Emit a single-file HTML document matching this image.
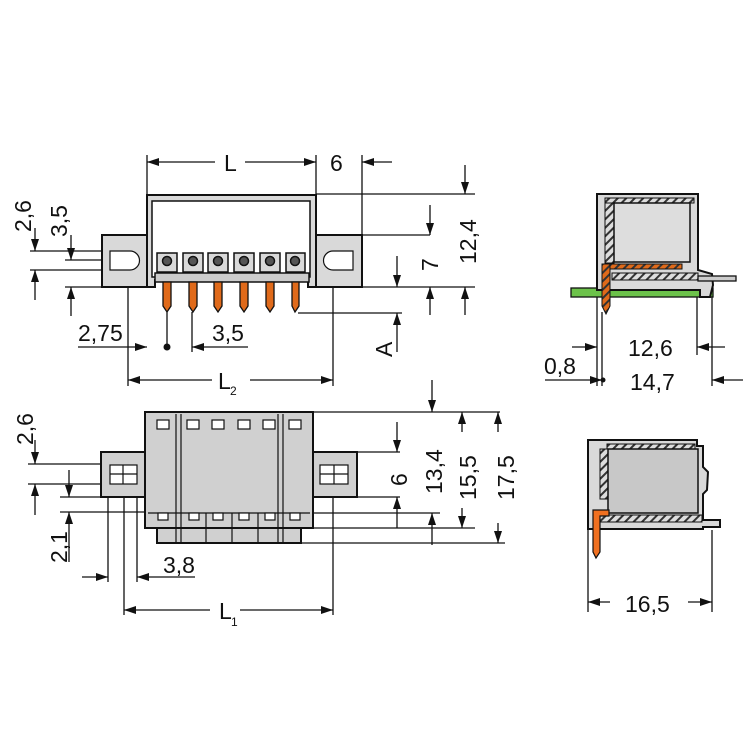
<!DOCTYPE html>
<html><head><meta charset="utf-8"><style>
html,body{margin:0;padding:0;background:#fff;}
svg{display:block;}
text{font-family:"Liberation Sans",sans-serif;font-size:23px;fill:#111;}
</style></head><body>
<svg width="750" height="750" viewBox="0 0 750 750" xmlns="http://www.w3.org/2000/svg">
<defs>
<marker id="a" viewBox="0 0 12 8" refX="12" refY="4" markerWidth="12" markerHeight="8" markerUnits="userSpaceOnUse" orient="auto"><path d="M0,0 L12,4 L0,8 z" fill="#111"/></marker>
<pattern id="h" width="6" height="6" patternUnits="userSpaceOnUse" patternTransform="rotate(45)"><rect width="6" height="6" fill="#ddd"/><rect width="2" height="6" fill="#333"/></pattern>
<pattern id="ho" width="6" height="6" patternUnits="userSpaceOnUse" patternTransform="rotate(45)"><rect width="6" height="6" fill="#e06a1a"/><rect width="2" height="6" fill="#333"/></pattern>
</defs>

<g stroke="#111" stroke-width="1.3" fill="none">
<line x1="147" y1="155" x2="147" y2="195"/>
<line x1="316" y1="155" x2="316" y2="195"/>
<line x1="362" y1="155" x2="362" y2="235"/>
<line x1="316" y1="194" x2="475" y2="194"/>
<line x1="362" y1="235" x2="430" y2="235"/>
<line x1="362" y1="287" x2="475" y2="287"/>
<line x1="298" y1="313" x2="402" y2="313"/>
<line x1="30" y1="251" x2="130" y2="251"/>
<line x1="65" y1="260" x2="110" y2="260"/>
<line x1="30" y1="270" x2="110" y2="270"/>
<line x1="65" y1="287" x2="102" y2="287"/>
<line x1="128" y1="250" x2="128" y2="386"/>
<line x1="333" y1="262" x2="333" y2="386"/>
<line x1="167" y1="312" x2="167" y2="347"/>
<line x1="192" y1="312" x2="192" y2="352"/>
<line x1="215" y1="162" x2="147" y2="162" marker-end="url(#a)"/>
<line x1="245" y1="162" x2="316" y2="162" marker-end="url(#a)"/>
<line x1="392" y1="162" x2="362" y2="162" marker-end="url(#a)"/>
<line x1="465" y1="165" x2="465" y2="194" marker-end="url(#a)"/>
<line x1="465" y1="315" x2="465" y2="287" marker-end="url(#a)"/>
<line x1="430" y1="205" x2="430" y2="235" marker-end="url(#a)"/>
<line x1="430" y1="315" x2="430" y2="287" marker-end="url(#a)"/>
<line x1="397" y1="256" x2="397" y2="287" marker-end="url(#a)"/>
<line x1="397" y1="352" x2="397" y2="313" marker-end="url(#a)"/>
<line x1="35" y1="228" x2="35" y2="251" marker-end="url(#a)"/>
<line x1="35" y1="300" x2="35" y2="270" marker-end="url(#a)"/>
<line x1="71" y1="235" x2="71" y2="260" marker-end="url(#a)"/>
<line x1="71" y1="316" x2="71" y2="287" marker-end="url(#a)"/>
<line x1="78" y1="347" x2="147" y2="347" marker-end="url(#a)"/>
<line x1="248" y1="347" x2="192" y2="347" marker-end="url(#a)"/>
<line x1="212" y1="380" x2="128" y2="380" marker-end="url(#a)"/>
<line x1="250" y1="380" x2="333" y2="380" marker-end="url(#a)"/>
</g>
<circle cx="167" cy="347" r="3.5" fill="#111"/>

<g stroke="#111" stroke-width="2">
<rect x="102" y="235" width="45" height="52" fill="#d9d9d9"/>
<rect x="316" y="235" width="46" height="52" fill="#d9d9d9"/>
<path d="M147,287 V195 H316 V287 H308 V280 H155 V287 Z" fill="#d9d9d9"/>
<rect x="152" y="201" width="158" height="76" fill="#fff" stroke-width="1.5"/>
</g>
<g stroke="#111" stroke-width="1.2" fill="#fff">
<path d="M110,251 H130 A9.5,9.5 0 0 1 130,270 H110 Z"/>
<path d="M353,251 H333 A9.5,9.5 0 0 0 333,270 H353 Z"/>
</g>
<g stroke="#111" stroke-width="1.5">
<rect x="155" y="273" width="154" height="9" fill="#ccc"/>
<g fill="#d9d9d9">
<rect x="157" y="253" width="20" height="19"/><rect x="183" y="253" width="20" height="19"/><rect x="208" y="253" width="20" height="19"/>
<rect x="234" y="253" width="20" height="19"/><rect x="260" y="253" width="20" height="19"/><rect x="286" y="253" width="19" height="19"/>
</g>
<g fill="#555"><circle cx="167" cy="261" r="4.5"/><circle cx="193" cy="261" r="4.5"/><circle cx="218" cy="261" r="4.5"/><circle cx="244" cy="261" r="4.5"/><circle cx="270" cy="261" r="4.5"/><circle cx="295" cy="261" r="4.5"/></g>
<g fill="#e06a1a" stroke-width="1.3">
<path d="M163,282 H171 V306 L167,312 L163,306 Z"/><path d="M189,282 H197 V306 L193,312 L189,306 Z"/>
<path d="M214,282 H222 V306 L218,312 L214,306 Z"/><path d="M240,282 H248 V306 L244,312 L240,306 Z"/>
<path d="M266,282 H274 V306 L270,312 L266,306 Z"/><path d="M292,282 H299 V306 L295,312 L292,306 Z"/>
</g>
</g>

<text x="224" y="171">L</text>
<text x="330" y="171">6</text>
<text x="78" y="341">2,75</text>
<text x="212" y="341">3,5</text>
<text x="218" y="389">L</text><text x="230" y="395" style="font-size:12px">2</text>
<text transform="translate(31,232) rotate(-90)">2,6</text>
<text transform="translate(67,237) rotate(-90)">3,5</text>
<text transform="translate(438,271) rotate(-90)">7</text>
<text transform="translate(476,264) rotate(-90)">12,4</text>
<text transform="translate(392,357) rotate(-90)">A</text>

<g stroke="#111" stroke-width="1.3" fill="none">
<line x1="313" y1="412" x2="500" y2="412"/>
<line x1="357" y1="452" x2="400" y2="452"/>
<line x1="357" y1="497" x2="400" y2="497"/>
<line x1="313" y1="513" x2="440" y2="513"/>
<line x1="313" y1="528" x2="475" y2="528"/>
<line x1="301" y1="543" x2="505" y2="543"/>
<line x1="28" y1="464" x2="137" y2="464"/>
<line x1="28" y1="484" x2="137" y2="484"/>
<line x1="60" y1="497" x2="101" y2="497"/>
<line x1="60" y1="512" x2="145" y2="512"/>
<line x1="108" y1="480" x2="108" y2="582"/>
<line x1="137" y1="484" x2="137" y2="582"/>
<line x1="124" y1="470" x2="124" y2="615"/>
<line x1="333" y1="470" x2="333" y2="615"/>
<line x1="432" y1="380" x2="432" y2="412" marker-end="url(#a)"/>
<line x1="397" y1="422" x2="397" y2="452" marker-end="url(#a)"/>
<line x1="397" y1="528" x2="397" y2="497" marker-end="url(#a)"/>
<line x1="432" y1="545" x2="432" y2="513" marker-end="url(#a)"/>
<line x1="462" y1="432" x2="462" y2="412" marker-end="url(#a)"/>
<line x1="462" y1="508" x2="462" y2="528" marker-end="url(#a)"/>
<line x1="498" y1="432" x2="498" y2="412" marker-end="url(#a)"/>
<line x1="498" y1="523" x2="498" y2="543" marker-end="url(#a)"/>
<line x1="35" y1="440" x2="35" y2="464" marker-end="url(#a)"/>
<line x1="35" y1="515" x2="35" y2="484" marker-end="url(#a)"/>
<line x1="69" y1="470" x2="69" y2="497" marker-end="url(#a)"/>
<line x1="69" y1="562" x2="69" y2="512" marker-end="url(#a)"/>
<line x1="82" y1="577" x2="108" y2="577" marker-end="url(#a)"/>
<line x1="195" y1="577" x2="137" y2="577" marker-end="url(#a)"/>
<line x1="210" y1="610" x2="124" y2="610" marker-end="url(#a)"/>
<line x1="240" y1="610" x2="333" y2="610" marker-end="url(#a)"/>
</g>
<g stroke="#111" stroke-width="2" fill="#d0d0d0">
<rect x="101" y="452" width="44" height="45"/>
<rect x="313" y="452" width="44" height="45"/>
<rect x="157" y="520" width="144" height="23"/>
<rect x="145" y="412" width="168" height="116"/>
</g>
<g stroke="#111" stroke-width="1.2" fill="none">
<rect x="110" y="465" width="27" height="19" fill="#fff"/><line x1="123" y1="465" x2="123" y2="484"/><line x1="110" y1="474" x2="137" y2="474"/>
<rect x="320" y="465" width="28" height="19" fill="#fff"/><line x1="334" y1="465" x2="334" y2="484"/><line x1="320" y1="474" x2="348" y2="474"/>
<line x1="176" y1="414" x2="176" y2="543"/><line x1="181" y1="414" x2="181" y2="543"/>
<line x1="278" y1="414" x2="278" y2="543"/><line x1="283" y1="414" x2="283" y2="543"/>
<line x1="206" y1="513" x2="206" y2="543"/><line x1="232" y1="513" x2="232" y2="543"/><line x1="258" y1="513" x2="258" y2="543"/>
<line x1="148" y1="513" x2="310" y2="513"/>
<g fill="#fff">
<rect x="157" y="420" width="12" height="9"/><rect x="187" y="420" width="12" height="9"/><rect x="212" y="420" width="12" height="9"/>
<rect x="238" y="420" width="12" height="9"/><rect x="263" y="420" width="12" height="9"/><rect x="289" y="420" width="12" height="9"/>
<rect x="158" y="513" width="10" height="7"/><rect x="189" y="513" width="10" height="7"/><rect x="213" y="513" width="10" height="7"/>
<rect x="239" y="513" width="10" height="7"/><rect x="265" y="513" width="10" height="7"/><rect x="290" y="513" width="10" height="7"/>
</g>
</g>
<text transform="translate(33,445) rotate(-90)">2,6</text>
<text transform="translate(67,563) rotate(-90)">2,1</text>
<text x="163" y="573">3,8</text>
<text x="219" y="619">L</text><text x="231" y="626" style="font-size:12px">1</text>
<text transform="translate(407,486) rotate(-90)">6</text>
<text transform="translate(442,494) rotate(-90)">13,4</text>
<text transform="translate(476,500) rotate(-90)">15,5</text>
<text transform="translate(514,500) rotate(-90)">17,5</text>

<rect x="571" y="288" width="142" height="9" fill="#6cc24a" stroke="#111" stroke-width="1.3"/>
<g stroke="#111" stroke-width="2">
<path d="M597,288 V194 H698 V270 L712,274 L713,285 L710,297 H700 V290 H597 Z" fill="#d9d9d9"/>
<rect x="605" y="198" width="89" height="5" fill="url(#h)" stroke-width="1"/>
<rect x="605" y="203" width="9" height="60" fill="url(#h)" stroke-width="1"/>
<rect x="614" y="203" width="76" height="59" fill="#ddd" stroke-width="1.5"/>
<rect x="612" y="273" width="86" height="7" fill="url(#h)" stroke-width="1"/>
<rect x="698" y="276" width="38" height="5" fill="#ccc" stroke-width="1.3"/>
<rect x="602" y="264" width="80" height="5" fill="url(#ho)" stroke-width="1"/>
<path d="M602,264 H610 V306 L606,314 L602,306 Z" fill="url(#ho)" stroke-width="1"/>
</g>
<g stroke="#111" stroke-width="1.3" fill="none">
<line x1="597" y1="297" x2="597" y2="386"/>
<line x1="602" y1="312" x2="602" y2="386"/>
<line x1="697" y1="297" x2="697" y2="355"/>
<line x1="712" y1="297" x2="712" y2="386"/>
<line x1="572" y1="347" x2="597" y2="347" marker-end="url(#a)"/>
<line x1="725" y1="347" x2="697" y2="347" marker-end="url(#a)"/>
<line x1="545" y1="380" x2="602" y2="380" marker-end="url(#a)"/>
<line x1="743" y1="380" x2="712" y2="380" marker-end="url(#a)"/>
</g>
<circle cx="603" cy="380" r="2.5" fill="#111"/>
<text x="628" y="356">12,6</text>
<text x="630" y="390">14,7</text>
<text x="544" y="374">0,8</text>

<g stroke="#111" stroke-width="2">
<path d="M588,529 V440 H697 V446 H703 V467 L708,472 L707,490 L703,494 V520 H720 V527 H703 V529 Z" fill="#d9d9d9"/>
<rect x="607" y="444" width="88" height="5" fill="url(#h)" stroke-width="1"/>
<rect x="600" y="449" width="8" height="50" fill="url(#h)" stroke-width="1"/>
<rect x="608" y="449" width="90" height="64" fill="#c8c8c8" stroke-width="1.5"/>
<rect x="596" y="515" width="106" height="7" fill="url(#h)" stroke-width="1"/>
<path d="M593,510 H609 V516 H600 V552 L596,558 L593,552 Z" fill="#f07020" stroke-width="1.2"/>
</g>
<g stroke="#111" stroke-width="1.3" fill="none">
<line x1="588" y1="530" x2="588" y2="612"/>
<line x1="712" y1="530" x2="712" y2="612"/>
<line x1="610" y1="602" x2="588" y2="602" marker-end="url(#a)"/>
<line x1="688" y1="602" x2="712" y2="602" marker-end="url(#a)"/>
</g>
<text x="625" y="612">16,5</text>
</svg>
</body></html>
